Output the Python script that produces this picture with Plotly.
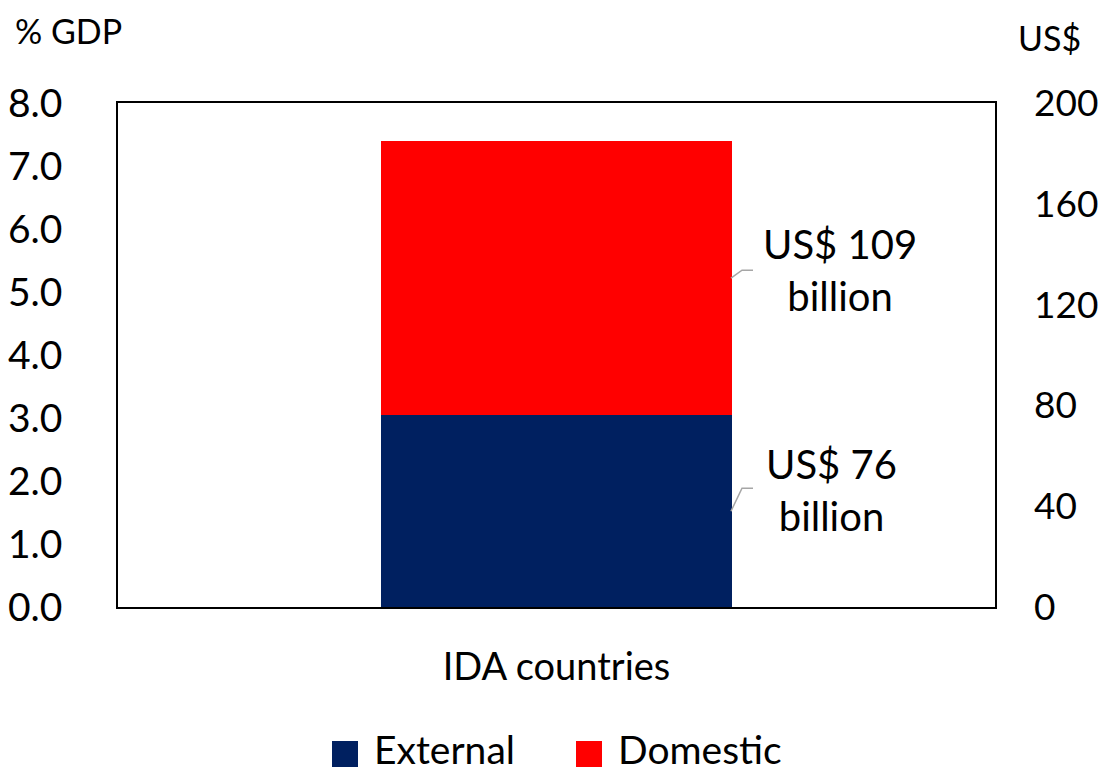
import plotly.graph_objects as go

# Financing needs of IDA countries
categories = ["IDA countries"]
external_bn = [76]      # US$ billion
domestic_bn = [109]     # US$ billion
series_names = ["External", "Domestic"]
series_colors = ["#002060", "#FF0000"]

left_ticks = [0, 1, 2, 3, 4, 5, 6, 7, 8]
right_ticks = [0, 40, 80, 120, 160, 200]

FONT = "Lato"
W, H = 1104, 773
M_L, M_R, M_T, M_B = 118, 109, 103, 166
PW = W - M_L - M_R
PH = H - M_T - M_B
Y2_MAX = 200

fig = go.Figure()
# empty trace so the left (% GDP) axis is laid out alongside the US$ axis
fig.add_trace(go.Scatter(x=categories, y=[None], yaxis="y", mode="markers",
                         showlegend=False, hoverinfo="skip"))
fig.add_trace(go.Bar(x=categories, y=external_bn, name=series_names[0],
                     marker=dict(color=series_colors[0], line=dict(width=0)),
                     width=0.4, yaxis="y2", showlegend=False))
fig.add_trace(go.Bar(x=categories, y=domestic_bn, name=series_names[1],
                     marker=dict(color=series_colors[1], line=dict(width=0)),
                     width=0.4, yaxis="y2", showlegend=False))


def px_x(px):
    return (px - M_L) / PW


def px_y(px):
    return (M_T + PH - px) / PH


def px_dy(px):
    return px * Y2_MAX / PH


annotations = []
shapes = []

# value labels with elbow leader lines
labels = [
    (external_bn[0] / 2, f"US$ {external_bn[0]}<br>billion", 831, 21, 23),
    (external_bn[0] + domestic_bn[0] / 2, f"US$ {domestic_bn[0]}<br>billion", 840, 8, 8),
]
for mid, txt, cx, yshift, rise in labels:
    annotations.append(dict(x=px_x(cx), y=mid, xref="paper", yref="y2", text=txt,
                            showarrow=False, yshift=yshift, xanchor="center", yanchor="middle",
                            font=dict(family=FONT, size=40, color="black")))
    x0, x1, x2 = px_x(731), px_x(742), px_x(753)
    y0, y1 = mid, mid + px_dy(rise)
    shapes.append(dict(type="path", xref="paper", yref="y2",
                       path=f"M {x0},{y0} L {x1},{y1} L {x2},{y1}",
                       line=dict(color="#A6A6A6", width=1.5)))

# legend
legend_items = [(series_names[0], series_colors[0], 332), (series_names[1], series_colors[1], 576)]
for name, col, sx in legend_items:
    shapes.append(dict(type="rect", xref="paper", yref="paper",
                       x0=px_x(sx), x1=px_x(sx + 26),
                       y0=px_y(767), y1=px_y(741),
                       fillcolor=col, line=dict(width=0)))
    annotations.append(dict(x=px_x(sx + 40), y=px_y(749), xref="paper", yref="paper",
                            text=name, showarrow=False, xanchor="left", yanchor="middle",
                            font=dict(family=FONT, size=39, color="black")))

# axis unit labels
annotations.append(dict(x=px_x(13), y=px_y(30), xref="paper", yref="paper",
                        text="% GDP", showarrow=False, xanchor="left", yanchor="middle",
                        font=dict(family=FONT, size=34, color="black")))
annotations.append(dict(x=px_x(1016), y=px_y(37), xref="paper", yref="paper",
                        text="US$", showarrow=False, xanchor="left", yanchor="middle",
                        font=dict(family=FONT, size=34, color="black")))

fig.update_layout(
    width=W, height=H,
    margin=dict(l=M_L, r=M_R, t=M_T, b=M_B),
    paper_bgcolor="white", plot_bgcolor="white",
    barmode="stack",
    font=dict(family=FONT, color="black"),
    xaxis=dict(type="category", range=[-0.5, 0.5], showgrid=False, automargin=False,
               showline=True, linecolor="black", linewidth=1.5, mirror=True,
               ticks="", tickfont=dict(size=38), ticklabelstandoff=26),
    yaxis=dict(range=[0, 8], tickvals=left_ticks, tickformat=".1f", showgrid=False,
               automargin=False, zeroline=False, showline=True, linecolor="black",
               linewidth=1.5, mirror=True,
               ticks="", tickfont=dict(size=39), ticklabelstandoff=46),
    yaxis2=dict(range=[0, Y2_MAX], tickvals=right_ticks, overlaying="y", side="right",
                automargin=False, showgrid=False, zeroline=False, showline=False, ticks="",
                tickfont=dict(size=37), ticklabelstandoff=38),
    annotations=annotations,
    shapes=shapes,
    showlegend=False,
)

fig.write_html("out.html")
